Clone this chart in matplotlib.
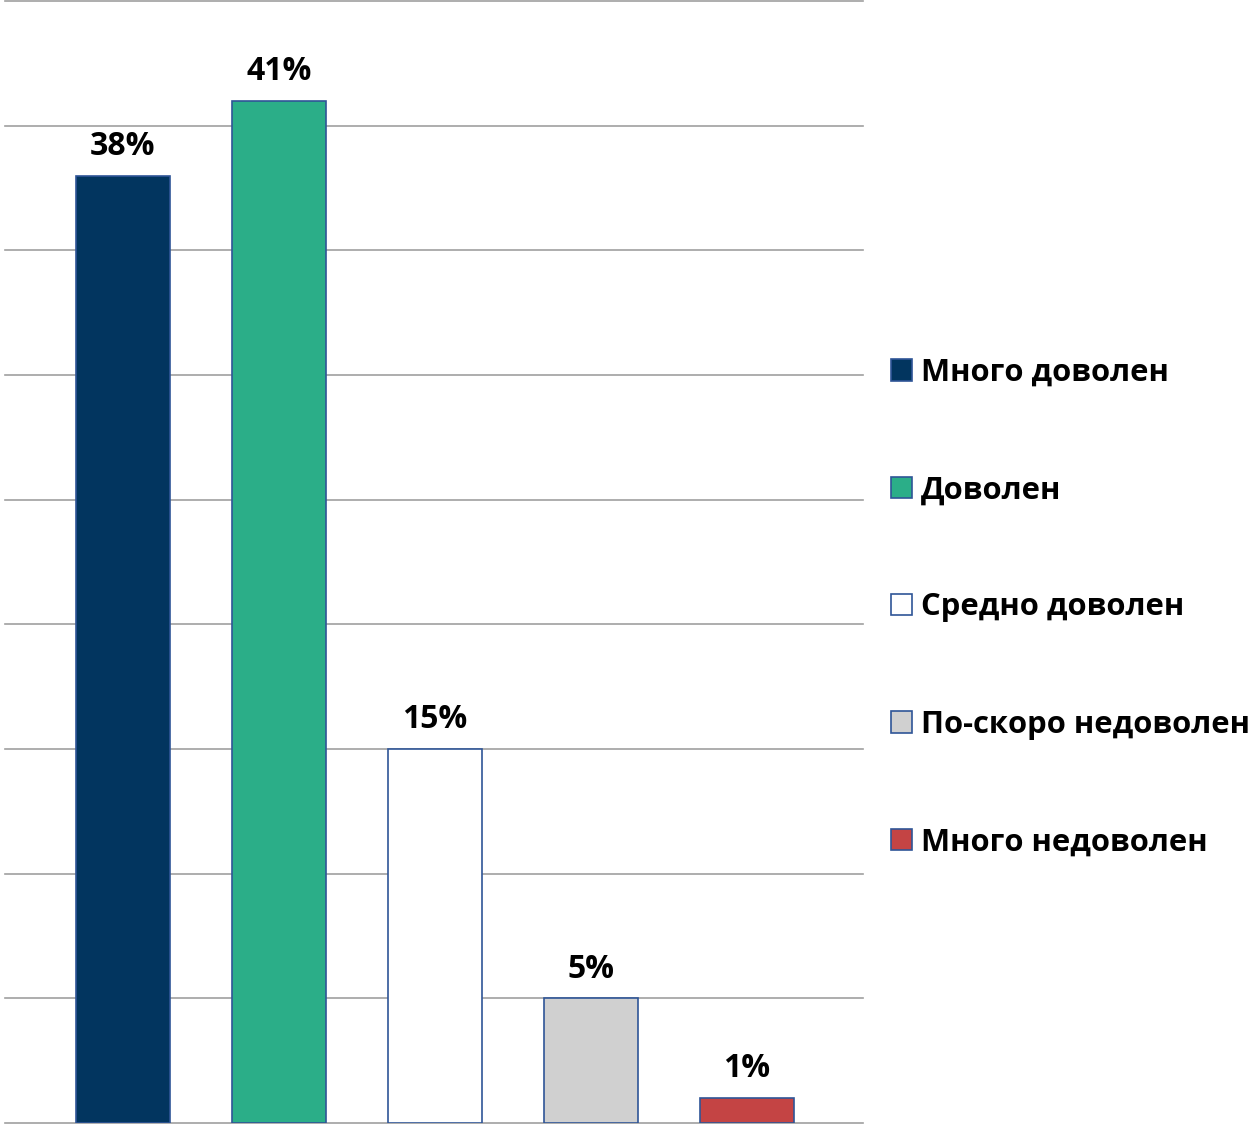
import matplotlib
matplotlib.use("Agg")
import matplotlib.pyplot as plt
import numpy as np

categories = ["Много доволен", "Доволен", "Средно доволен", "По-скоро недоволен", "Много недоволен"]
values = [38, 41, 15, 5, 1]
labels = ["38%", "41%", "15%", "5%", "1%"]
colors = ["#02355F", "#2BAE88", "#FFFFFF", "#D0D0D0", "#C44444"]
yticks = [0, 5, 10, 15, 20, 25, 30, 35, 40, 45]

plt.rcParams['font.family'] = ['Open Sans', 'DejaVu Sans']

W, H = 1258, 1127
fig = plt.figure(figsize=(W / 100, H / 100), dpi=100)
ax = fig.add_axes([5 / W, 4 / H, 858 / W, 1122 / H])

x = np.arange(len(categories))
bars = ax.bar(x, values, width=0.603, color=colors, edgecolor="#2F5597", linewidth=1.2,
              label=categories, zorder=3)

ax.set_xlim(-0.756, 4.744)
ax.set_ylim(0, 45)
ax.set_yticks(yticks)
ax.set_xticks([])
ax.tick_params(left=False, labelleft=False, bottom=False, labelbottom=False)
ax.yaxis.grid(True, color="#A0A0A0", linewidth=1.2)
for gl in ax.get_ygridlines():
    gl.set_clip_on(False)
for s in ax.spines.values():
    s.set_visible(False)

for xi, v, lab in zip(x, values, labels):
    ax.annotate(lab, xy=(xi, v), xytext=(0, 15), textcoords="offset points",
                ha="center", va="baseline", fontsize=23, fontweight="bold", color="#000000")

leg = ax.legend(handles=list(bars), labels=categories, loc="center left",
                bbox_to_anchor=(891 / W, 1 - 607.5 / H), bbox_transform=fig.transFigure,
                frameon=False, prop={"weight": "bold", "size": 22.3},
                handlelength=0.68, handleheight=0.68, handletextpad=0.3,
                labelspacing=2.82, borderpad=0, borderaxespad=0)

fig.savefig("out.png", dpi=100)
